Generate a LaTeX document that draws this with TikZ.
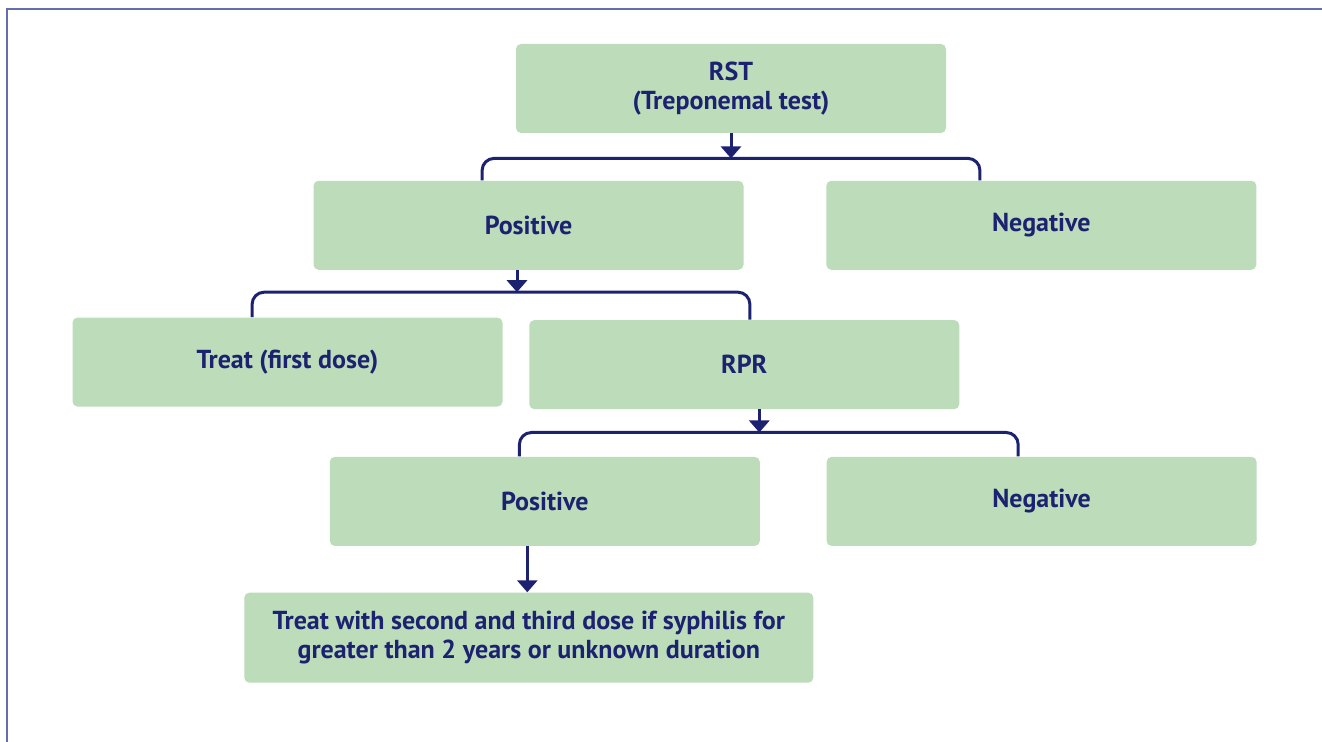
\documentclass[tikz,border=0pt]{standalone}
\usepackage{fontspec}
\setmainfont{PT Sans}
\usepackage{tikz}
\usetikzlibrary{arrows.meta,positioning}
\usepackage{xcolor}
\definecolor{flnavy}{RGB}{28,34,112}
\definecolor{flgreen}{RGB}{188,220,186}
\definecolor{flframe}{RGB}{100,110,168}
\tikzstyle{result} = [rectangle, rounded corners=2.5pt, minimum width=215pt, minimum height=44.5pt, text centered, fill=flgreen, text=flnavy, font=\bfseries\fontsize{13}{14.5}\selectfont, align=center]
\tikzstyle{arrow} = [line width=1.5pt, draw=flnavy, -{Triangle[width=10pt,length=6pt]}]
\tikzstyle{branch} = [line width=1.5pt, draw=flnavy, rounded corners=6pt]

\begin{document}
\begin{tikzpicture}
\useasboundingbox (0,0) rectangle (661pt,-371pt);
\draw[flframe, line width=1pt] (661pt,-4.5pt) -- (3.5pt,-4.5pt) -- (3.5pt,-371pt);

% Screening test
\node (rst) [result] at (365.5pt,-44.25pt) {RST\\(Treponemal test)};
\node (pos1) [result, below=23.5pt of rst, xshift=-101.25pt] {Positive};
\node (neg1) [result, right=41pt of pos1] {Negative};

% Follow-up
\node (treat1) [result, below=23.5pt of pos1, xshift=-120.5pt] {Treat (first dose)};
\node (rpr) [result, right=13pt of treat1, yshift=-1.25pt] {RPR};
\node (pos2) [result, below=23.5pt of rpr, xshift=-99.75pt] {Positive};
\node (neg2) [result, right=33pt of pos2] {Negative};
\node (treat2) [result, below=23pt of pos2, xshift=-8pt, minimum width=284.5pt, minimum height=45pt] {Treat with second and third dose if syphilis for\\greater than 2 years or unknown duration};

% Junctions
\coordinate (j1) at ([yshift=-12.5pt]rst.south);
\coordinate (j2) at ([xshift=-5.75pt,yshift=-11pt]pos1.south);
\coordinate (j3) at ([xshift=7.5pt,yshift=-11.5pt]rpr.south);

% Arrows
\draw[arrow] (rst) -- (j1);
\draw[branch] ([xshift=84.5pt]pos1.north west) |- (j1) -| ([xshift=77pt]neg1.north west);
\draw[arrow] ([xshift=-5.75pt]pos1.south) -- (j2);
\draw[branch] ([xshift=90pt]treat1.north west) |- (j2) -| ([xshift=110.5pt]rpr.north west);
\draw[arrow] ([xshift=7.5pt]rpr.south) -- (j3);
\draw[branch] ([xshift=95pt]pos2.north west) |- (j3) -| ([xshift=96pt]neg2.north west);
\draw[arrow] ([xshift=-8.75pt]pos2.south) -- ([xshift=-0.75pt]treat2.north);
\end{tikzpicture}
\end{document}
